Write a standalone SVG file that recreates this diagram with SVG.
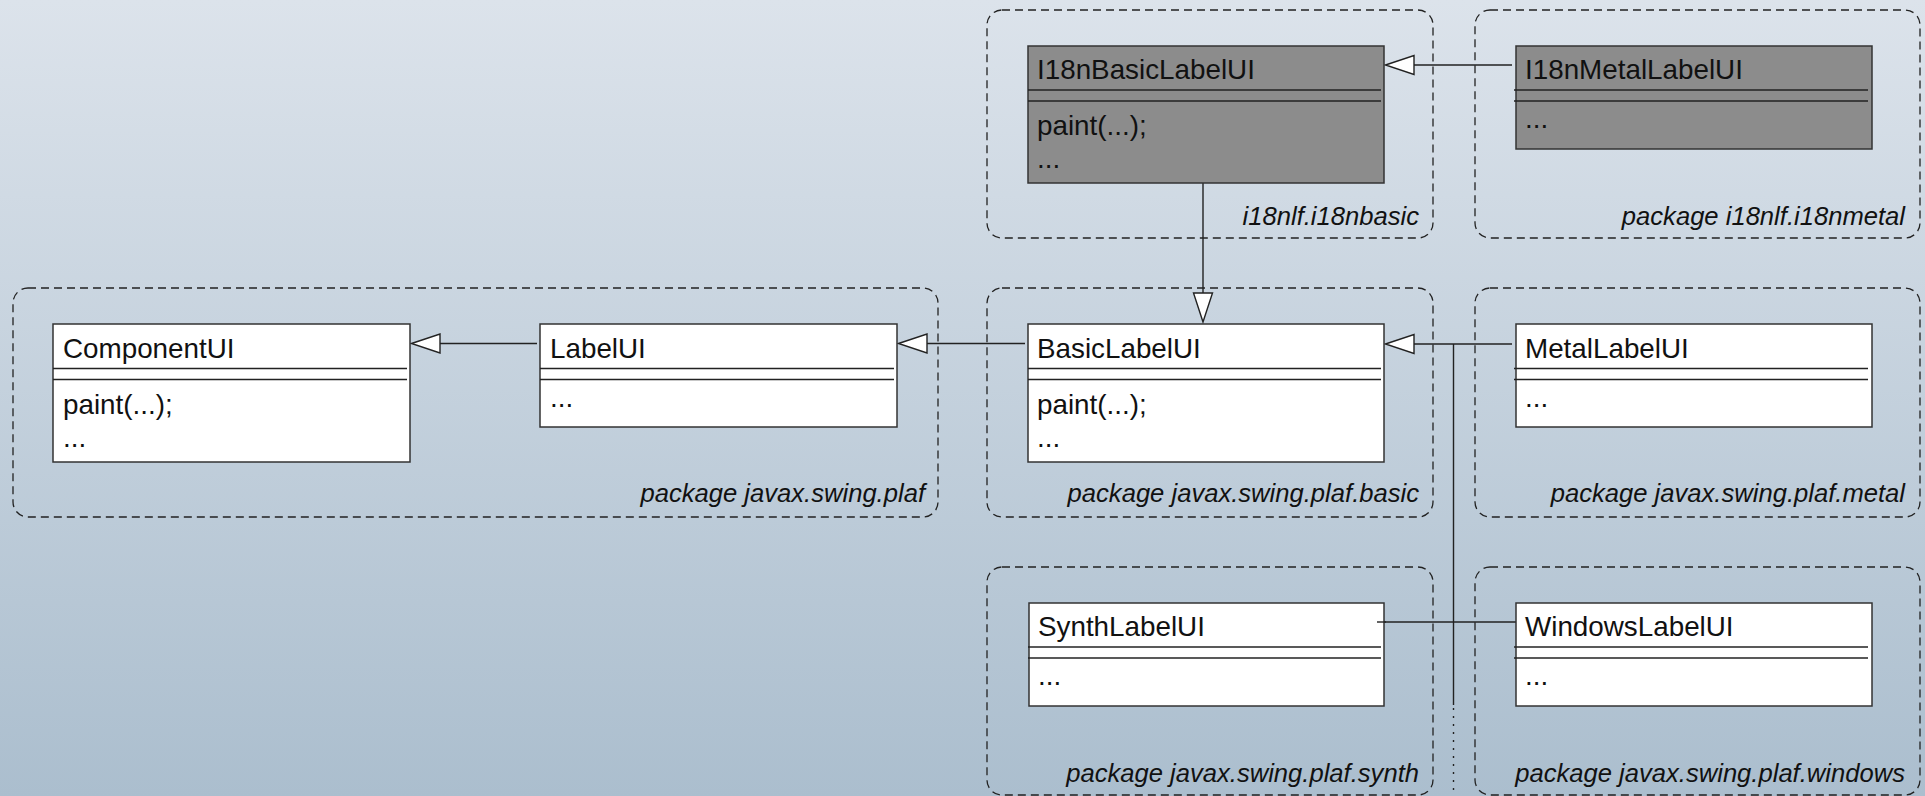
<svg xmlns="http://www.w3.org/2000/svg" width="1925" height="796" viewBox="0 0 1925 796">
  <defs>
    <linearGradient id="bg" x1="0" y1="0" x2="0" y2="1">
      <stop offset="0" stop-color="#dce3eb"/>
      <stop offset="1" stop-color="#abbece"/>
    </linearGradient>
    <style>
      .pkg { fill: none; stroke: #222; stroke-width: 1.3; stroke-dasharray: 8 5; }
      .pkgLabel { font-family: "Liberation Sans", Arial, sans-serif; font-style: italic; font-size: 25.6px; fill: #111; text-anchor: end; }
      .cls { fill: #ffffff; stroke: #333; stroke-width: 1.5; }
      .cls.dark { fill: #8c8c8c; }
      .sep { stroke: #222; stroke-width: 1.3; }
      .txt { font-family: "Liberation Sans", Arial, sans-serif; font-size: 27.8px; fill: #111; }
      .wire { fill: none; stroke: #222; stroke-width: 1.4; }
      .dots { fill: none; stroke: #222; stroke-width: 1.4; stroke-dasharray: 2 6; }
      .head { fill: #ffffff; stroke: #222; stroke-width: 1.4; stroke-linejoin: miter; }
    </style>
  </defs>

  <rect width="1925" height="796" fill="url(#bg)"/>

  <!-- packages -->
  <g id="pkg-plaf">
    <rect class="pkg" x="13" y="288" width="925" height="229" rx="15"/>
    <text class="pkgLabel" x="925" y="502">package javax.swing.plaf</text>
  </g>
  <g id="pkg-i18nbasic">
    <rect class="pkg" x="987" y="10" width="446" height="228" rx="15"/>
    <text class="pkgLabel" x="1419" y="225">i18nlf.i18nbasic</text>
  </g>
  <g id="pkg-i18nmetal">
    <rect class="pkg" x="1475" y="10" width="445" height="228" rx="15"/>
    <text class="pkgLabel" x="1905" y="225">package i18nlf.i18nmetal</text>
  </g>
  <g id="pkg-basic">
    <rect class="pkg" x="987" y="288" width="446" height="229" rx="15"/>
    <text class="pkgLabel" x="1419" y="502">package javax.swing.plaf.basic</text>
  </g>
  <g id="pkg-metal">
    <rect class="pkg" x="1475" y="288" width="445" height="229" rx="15"/>
    <text class="pkgLabel" x="1905" y="502">package javax.swing.plaf.metal</text>
  </g>
  <g id="pkg-synth">
    <rect class="pkg" x="987" y="567" width="446" height="228" rx="15"/>
    <text class="pkgLabel" x="1419" y="782">package javax.swing.plaf.synth</text>
  </g>
  <g id="pkg-windows">
    <rect class="pkg" x="1475" y="567" width="445" height="228" rx="15"/>
    <text class="pkgLabel" x="1905" y="782">package javax.swing.plaf.windows</text>
  </g>

  <!-- connectors -->
  <g id="connectors">
    <!-- LabelUI extends ComponentUI -->
    <line class="wire" x1="440" y1="343.5" x2="537" y2="343.5"/>
    <polygon class="head" points="411.5,343.5 440,334 440,353"/>
    <!-- BasicLabelUI extends LabelUI -->
    <line class="wire" x1="927" y1="343.5" x2="1025" y2="343.5"/>
    <polygon class="head" points="898.5,343.5 927,334 927,353"/>
    <!-- I18nMetalLabelUI extends I18nBasicLabelUI -->
    <line class="wire" x1="1414" y1="65" x2="1512" y2="65"/>
    <polygon class="head" points="1385.5,65 1414,55.5 1414,74.5"/>
    <!-- I18nBasicLabelUI extends BasicLabelUI -->
    <line class="wire" x1="1203" y1="183" x2="1203" y2="293"/>
    <polygon class="head" points="1203,322 1193.5,293 1212.5,293"/>
    <!-- Metal / Synth / Windows extend BasicLabelUI -->
    <line class="wire" x1="1414" y1="344" x2="1512" y2="344" stroke-width="1.8"/>
    <polygon class="head" points="1385.5,344 1414,334.5 1414,353.5"/>
    <line class="wire" x1="1453.5" y1="344" x2="1453.5" y2="705"/>
    <line class="dots" x1="1453.5" y1="708" x2="1453.5" y2="796"/>
    <line class="wire" x1="1377" y1="622" x2="1516.5" y2="622"/>
  </g>

  <!-- classes -->
  <g id="I18nBasicLabelUI">
    <rect class="cls dark" x="1028" y="46" width="356" height="137"/>
    <line class="sep" x1="1028" y1="90" x2="1381" y2="90"/>
    <line class="sep" x1="1028" y1="101" x2="1381" y2="101"/>
    <text class="txt" x="1037" y="79">I18nBasicLabelUI</text>
    <text class="txt" x="1037" y="135">paint(...);</text>
    <text class="txt" x="1037" y="168">...</text>
  </g>
  <g id="I18nMetalLabelUI">
    <rect class="cls dark" x="1516" y="46" width="356" height="103"/>
    <line class="sep" x1="1514" y1="90" x2="1868" y2="90"/>
    <line class="sep" x1="1514" y1="101" x2="1868" y2="101"/>
    <text class="txt" x="1525" y="79">I18nMetalLabelUI</text>
    <text class="txt" x="1525" y="128">...</text>
  </g>
  <g id="ComponentUI">
    <rect class="cls" x="53" y="324" width="357" height="138"/>
    <line class="sep" x1="53" y1="368.5" x2="407" y2="368.5"/>
    <line class="sep" x1="53" y1="379.5" x2="407" y2="379.5"/>
    <text class="txt" x="63" y="358">ComponentUI</text>
    <text class="txt" x="63" y="414">paint(...);</text>
    <text class="txt" x="63" y="447">...</text>
  </g>
  <g id="LabelUI">
    <rect class="cls" x="540" y="324" width="357" height="103"/>
    <line class="sep" x1="540" y1="368.5" x2="894" y2="368.5"/>
    <line class="sep" x1="540" y1="379.5" x2="894" y2="379.5"/>
    <text class="txt" x="550" y="358">LabelUI</text>
    <text class="txt" x="550" y="407">...</text>
  </g>
  <g id="BasicLabelUI">
    <rect class="cls" x="1028" y="324" width="356" height="138"/>
    <line class="sep" x1="1028" y1="368.5" x2="1381" y2="368.5"/>
    <line class="sep" x1="1028" y1="379.5" x2="1381" y2="379.5"/>
    <text class="txt" x="1037" y="358">BasicLabelUI</text>
    <text class="txt" x="1037" y="414">paint(...);</text>
    <text class="txt" x="1037" y="447">...</text>
  </g>
  <g id="MetalLabelUI">
    <rect class="cls" x="1516" y="324" width="356" height="103"/>
    <line class="sep" x1="1514" y1="368.5" x2="1868" y2="368.5"/>
    <line class="sep" x1="1514" y1="379.5" x2="1868" y2="379.5"/>
    <text class="txt" x="1525" y="358">MetalLabelUI</text>
    <text class="txt" x="1525" y="407">...</text>
  </g>
  <g id="SynthLabelUI">
    <rect class="cls" x="1029" y="603" width="355" height="103"/>
    <line class="sep" x1="1028" y1="647" x2="1381" y2="647"/>
    <line class="sep" x1="1028" y1="658" x2="1381" y2="658"/>
    <text class="txt" x="1038" y="636">SynthLabelUI</text>
    <text class="txt" x="1038" y="685">...</text>
  </g>
  <g id="WindowsLabelUI">
    <rect class="cls" x="1516" y="603" width="356" height="103"/>
    <line class="sep" x1="1514" y1="647" x2="1868" y2="647"/>
    <line class="sep" x1="1514" y1="658" x2="1868" y2="658"/>
    <text class="txt" x="1525" y="636">WindowsLabelUI</text>
    <text class="txt" x="1525" y="685">...</text>
  </g>

  <!-- the Synth connector is drawn over its own class box -->
  <line class="wire" x1="1377" y1="622" x2="1386" y2="622"/>
</svg>
